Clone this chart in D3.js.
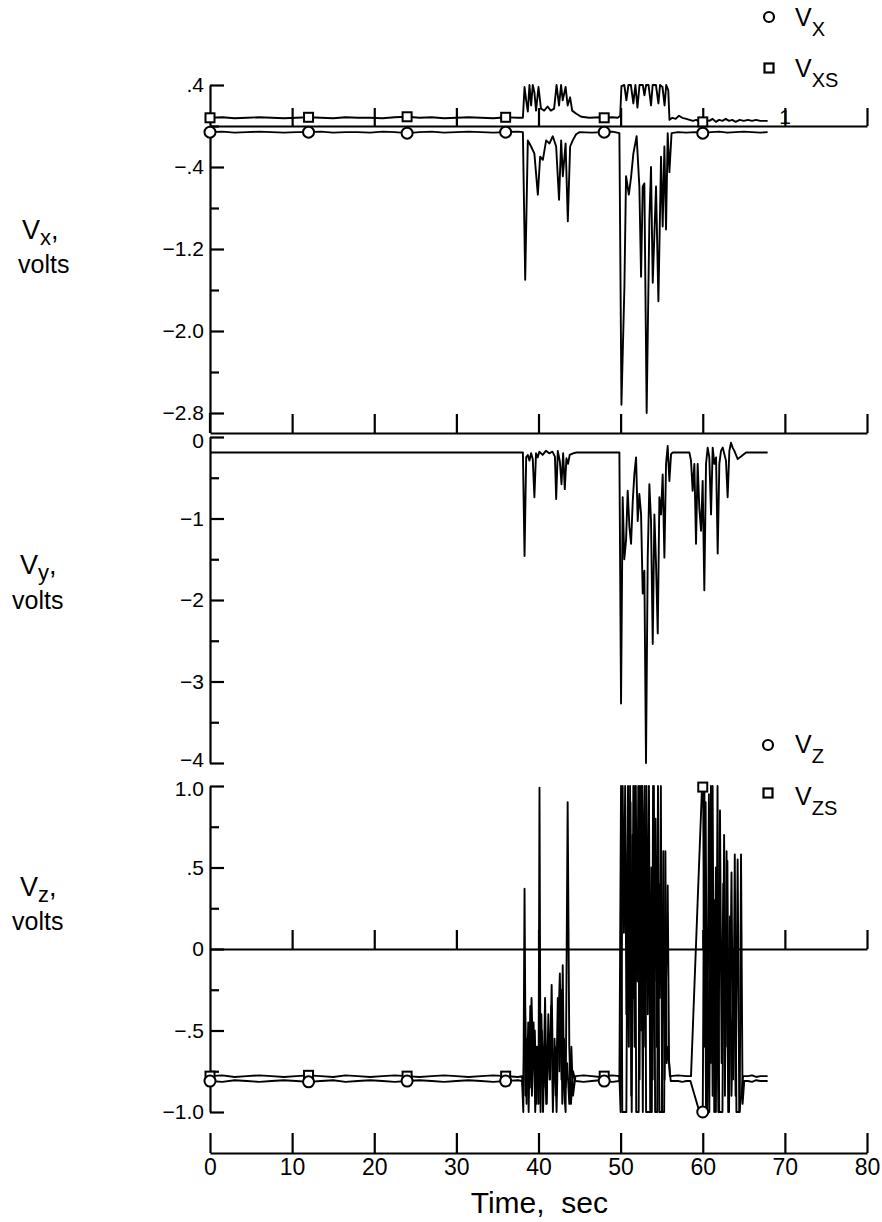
<!DOCTYPE html>
<html><head><meta charset="utf-8">
<script src="https://cdn.jsdelivr.net/npm/d3@7"></script>
<style>
body{margin:0;background:#fff}
svg{display:block}
text{font-family:"Liberation Sans",Arial,Helvetica,sans-serif;fill:#000}
</style>
</head><body>
<svg id="c" width="882" height="1222"></svg>
<script>
// ---------- data ----------
const timeTicks = [0,10,20,30,40,50,60,70,80];
const timeTickLabels = ["0","10","20","30","40","50","60","70","80"];
const markerTimes = [0,12,24,36,48,60];

const vxMajor = [0.4,-0.4,-1.2,-2.0,-2.8];
const vxMajorLabels = [".4","\u2212.4","\u22121.2","\u22122.0","\u22122.8"];
const vxMinor = [0,-0.8,-1.6,-2.4];

const vyMajor = [0,-1,-2,-3,-4];
const vyMajorLabels = ["0","\u22121","\u22122","\u22123","\u22124"];
const vyMinor = [-0.5,-1.5,-2.5,-3.5];

const vzMajor = [1,0.5,0,-0.5,-1];
const vzMajorLabels = ["1.0",".5","0","\u2212.5","\u22121.0"];
const vzMinor = [0.75,0.25,-0.25,-0.75];

// Vxs (squares), volts
const vxs = [[0,0.08],[1.5,0.085],[3,0.075],[4.5,0.08],[6,0.085],[7.5,0.08],[9,0.075],[10.5,0.08],[12,0.085],[13.5,0.08],[15,0.075],[16.5,0.085],[18,0.08],[19.5,0.08],[21,0.075],[22.5,0.085],[24,0.09],[25.5,0.08],[27,0.085],[28.5,0.075],[30,0.08],[31.5,0.085],[33,0.08],[34.5,0.075],[36,0.085],[37.5,0.08],
[38.1,0.08],[38.3,0.38],[38.5,0.25],[38.7,0.14],[38.9,0.4],[39.1,0.2],[39.3,0.4],[39.5,0.33],[39.7,0.15],[40.0,0.38],[40.3,0.17],[40.7,0.15],[41.1,0.19],[41.5,0.15],[41.9,0.17],[42.2,0.4],[42.5,0.2],[42.75,0.4],[42.95,0.25],[43.3,0.38],[43.55,0.2],[43.85,0.28],[44.1,0.15],[44.6,0.12],[45.2,0.09],[46.2,0.08],[47.4,0.085],[48,0.08],[49,0.085],[49.65,0.08],[49.95,0.1],
[50.1,0.39],[50.45,0.4],[50.7,0.25],[50.95,0.4],[51.25,0.4],[51.55,0.22],[51.8,0.4],[52.05,0.18],[52.3,0.4],[52.7,0.4],[52.9,0.3],[53.1,0.4],[53.4,0.4],[53.7,0.2],[53.9,0.4],[54.3,0.4],[54.6,0.22],[54.8,0.4],[55.1,0.38],[55.35,0.2],[55.55,0.4],[55.8,0.35],[55.95,0.06],
[56.3,0.08],[56.7,0.07],[57.1,0.1],[57.5,0.08],[58.0,0.07],[58.4,0.06],[58.8,0.05],[59.2,0.06],[59.6,0.04],[60,0.04],[60.4,0.06],[60.8,0.05],[61.2,0.07],[61.6,0.04],[62,0.06],[62.4,0.05],[62.8,0.07],[63.2,0.05],[63.6,0.06],[64,0.04],[64.5,0.06],[65,0.05],[65.5,0.06],[66,0.05],[66.5,0.06],[67,0.05],[67.9,0.05]];

// Vx (circles), volts
const vx = [[0,-0.06],[1.5,-0.055],[3,-0.065],[4.5,-0.06],[6,-0.055],[7.5,-0.06],[9,-0.065],[10.5,-0.06],[12,-0.06],[13.5,-0.055],[15,-0.065],[16.5,-0.06],[18,-0.06],[19.5,-0.065],[21,-0.055],[22.5,-0.06],[24,-0.07],[25.5,-0.06],[27,-0.055],[28.5,-0.065],[30,-0.06],[31.5,-0.055],[33,-0.06],[34.5,-0.065],[36,-0.06],[37.5,-0.055],
[38.1,-0.06],[38.38,-1.5],[38.7,-0.14],[39.1,-0.2],[39.5,-0.27],[39.92,-0.67],[40.2,-0.3],[40.53,-0.33],[40.93,-0.14],[41.34,-0.17],[41.74,-0.1],[42.15,-0.2],[42.5,-0.72],[42.76,-0.14],[42.96,-0.49],[43.3,-0.17],[43.57,-0.93],[43.85,-0.2],[44.17,-0.14],[44.58,-0.08],[45.0,-0.06],[46.5,-0.065],[48,-0.06],[49.0,-0.055],[49.85,-0.07],
[50.1,-2.72],[50.46,-1.57],[50.66,-0.49],[51.0,-0.67],[51.27,-0.5],[51.55,-0.27],[51.95,-0.1],[52.28,-0.59],[52.49,-1.47],[52.69,-0.59],[52.89,-0.56],[53.17,-2.8],[53.5,-0.92],[53.7,-0.4],[53.91,-1.53],[54.31,-0.59],[54.6,-1.71],[54.92,-0.3],[55.12,-0.98],[55.33,-0.2],[55.53,-1.01],[55.73,-0.07],[55.94,-0.45],[56.2,-0.07],
[57,-0.06],[58,-0.065],[59,-0.06],[60,-0.07],[61,-0.06],[62,-0.055],[63,-0.065],[64,-0.06],[65,-0.055],[66,-0.06],[67,-0.065],[67.9,-0.06]];

// Vy, volts
const vy = [[0,-0.19],[38.1,-0.19],[38.3,-1.46],[38.5,-0.25],[38.7,-0.22],[38.9,-0.29],[39.1,-0.2],[39.3,-0.27],[39.5,-0.74],[39.7,-0.2],[39.9,-0.25],[40.1,-0.18],[40.5,-0.22],[40.9,-0.17],[41.3,-0.2],[41.7,-0.18],[42.0,-0.24],[42.15,-0.76],[42.35,-0.17],[42.6,-0.3],[42.8,-0.58],[43.0,-0.2],[43.2,-0.64],[43.4,-0.26],[43.6,-0.33],[43.8,-0.22],[44.2,-0.2],[44.6,-0.19],[49.85,-0.19],
[50.05,-3.27],[50.25,-0.74],[50.45,-1.5],[50.66,-1.27],[50.86,-0.66],[51.07,-1.1],[51.27,-1.31],[51.47,-0.8],[51.67,-0.46],[51.88,-0.25],[52.08,-1.03],[52.28,-0.7],[52.49,-0.95],[52.69,-1.92],[52.89,-1.64],[53.09,-4.0],[53.3,-1.48],[53.5,-0.58],[53.7,-1.03],[53.91,-2.54],[54.11,-0.95],[54.31,-1.56],[54.52,-2.41],[54.72,-0.74],[54.92,-0.95],[55.12,-0.46],[55.33,-1.48],[55.53,-0.33],[55.73,-0.11],[55.94,-0.54],[56.14,-0.21],[56.34,-0.19],
[58.37,-0.19],[58.57,-0.29],[58.77,-0.66],[58.98,-0.33],[59.18,-1.31],[59.38,-0.33],[59.58,-0.87],[59.79,-1.15],[59.99,-0.54],[60.19,-1.88],[60.4,-0.33],[60.6,-0.13],[60.8,-0.25],[61.01,-0.95],[61.21,-0.13],[61.41,-0.33],[61.62,-0.25],[61.82,-1.43],[62.02,-0.33],[62.22,-0.17],[62.43,-0.13],[62.63,-0.21],[62.83,-0.29],[63.03,-0.74],[63.24,-0.17],[63.44,-0.07],[63.64,-0.13],[63.85,-0.17],[64.25,-0.27],[64.66,-0.24],[65.27,-0.19],[67.9,-0.19]];

// Vz (circles), volts
const vz = [[0,-0.81],[1.5,-0.815],[3,-0.805],[4.5,-0.81],[6,-0.815],[7.5,-0.81],[9,-0.805],[10.5,-0.81],[12,-0.815],[13.5,-0.81],[15,-0.805],[16.5,-0.815],[18,-0.81],[19.5,-0.805],[21,-0.81],[22.5,-0.815],[24,-0.81],[25.5,-0.805],[27,-0.81],[28.5,-0.815],[30,-0.81],[31.5,-0.805],[33,-0.81],[34.5,-0.815],[36,-0.81],[37.5,-0.805],[38.0,-0.81],
[38.15,-1.0],[38.3,0.37],[38.45,-0.9],[38.6,-0.55],[38.8,-1.0],[39.0,-0.35],[39.2,-0.9],[39.4,-0.45],[39.6,-1.0],[39.8,-0.6],[40.0,-0.95],[40.12,0.99],[40.25,-1.0],[40.4,-0.5],[40.6,-0.85],[40.8,-0.3],[41.0,-0.95],[41.2,-0.4],[41.4,-0.8],[41.6,-0.22],[41.8,-0.9],[42.0,-0.6],[42.2,-1.0],[42.4,-0.5],[42.6,-0.15],[42.8,-0.8],[42.95,-0.1],[43.1,-0.85],[43.3,-1.0],[43.55,0.9],[43.75,-0.6],[43.95,-0.95],[44.2,-0.75],[44.5,-0.81],
[45.5,-0.815],[46.5,-0.81],[47.5,-0.805],[48,-0.81],[49,-0.815],[49.85,-0.81],
[50.05,1.0],[50.2,-1.0],[50.7,-1.0],[50.85,0.6],[51.0,-0.6],[51.15,1.0],[51.3,-0.9],[51.45,0.7],[51.6,-0.3],[51.75,1.0],[51.9,-1.0],[52.2,-1.0],[52.35,1.0],[52.5,-0.5],[52.65,1.0],[52.8,0.2],[52.95,1.0],[53.1,-1.0],[53.8,-1.0],[53.95,1.0],[54.1,-0.2],[54.25,0.8],[54.4,-0.6],[54.55,1.0],[54.7,-1.0],[55.0,-1.0],[55.2,0.6],[55.35,-0.8],[55.5,-0.3],[55.73,0.39],[55.9,-0.7],[56.1,-0.81],
[57,-0.81],[57.5,-0.815],[58,-0.81],[58.5,-0.81],
[59.6,-1.0],[60.0,-1.0],[60.2,1.0],[60.4,-1.0],[60.6,-0.2],[60.8,-1.0],[61.0,1.0],[61.2,-0.9],[61.4,0.3],[61.6,-1.0],[61.8,1.0],[62.0,-1.0],[62.4,-1.0],[62.6,0.7],[62.8,-0.6],[63.0,0.54],[63.2,-1.0],[63.5,0.47],[63.7,-0.8],[63.9,0.58],[64.1,-1.0],[64.5,-1.0],[64.66,0.58],[64.85,-0.95],[65.05,-0.81],
[65.5,-0.81],[66,-0.815],[66.5,-0.805],[67,-0.81],[67.9,-0.81]];

// Vzs (squares), volts
const vzs = [[0,-0.78],[1.5,-0.775],[3,-0.785],[4.5,-0.78],[6,-0.775],[7.5,-0.78],[9,-0.785],[10.5,-0.78],[12,-0.775],[13.5,-0.78],[15,-0.785],[16.5,-0.775],[18,-0.78],[19.5,-0.785],[21,-0.78],[22.5,-0.775],[24,-0.78],[25.5,-0.785],[27,-0.78],[28.5,-0.775],[30,-0.78],[31.5,-0.785],[33,-0.78],[34.5,-0.775],[36,-0.78],[37.5,-0.785],[38.0,-0.78],
[38.15,-0.9],[38.35,-0.3],[38.55,-0.95],[38.75,-0.45],[38.95,-0.85],[39.15,-0.3],[39.35,-0.7],[39.55,-0.5],[39.75,-0.95],[39.95,-0.6],[40.2,-0.85],[40.35,-0.4],[40.55,-1.0],[40.75,-0.6],[40.95,-0.95],[41.15,-0.55],[41.35,-0.8],[41.55,-0.35],[41.75,-1.0],[41.95,-0.55],[42.15,-0.9],[42.35,-0.3],[42.55,-0.75],[42.75,-0.25],[42.9,-0.95],[43.1,-0.55],[43.3,-0.85],[43.5,-0.7],[43.75,-0.95],[44.0,-0.6],[44.2,-0.9],[44.5,-0.78],
[45.5,-0.775],[46.5,-0.78],[47.5,-0.785],[48,-0.78],[49,-0.775],[49.85,-0.78],
[50.0,-1.0],[50.25,1.0],[50.4,0.1],[50.55,1.0],[50.7,-0.4],[50.9,1.0],[51.05,-0.2],[51.2,0.9],[51.35,-1.0],[51.55,1.0],[51.7,-0.6],[51.85,1.0],[52.0,-0.2],[52.15,1.0],[52.3,-0.8],[52.5,1.0],[52.7,-1.0],[52.85,0.6],[53.0,-0.6],[53.15,1.0],[53.3,-0.4],[53.45,1.0],[53.6,-1.0],[53.75,0.5],[53.9,-0.8],[54.05,1.0],[54.2,-1.0],[54.45,-1.0],[54.6,0.4],[54.75,-0.3],[54.9,1.0],[55.05,-1.0],[55.3,-1.0],[55.45,0.6],[55.6,-0.7],[55.8,-0.6],[56.0,-0.78],
[57,-0.775],[58,-0.78],[58.57,-0.78],
[59.9,0.98],[60.05,1.0],[60.2,-0.6],[60.35,0.9],[60.55,-1.0],[60.75,0.95],[61.0,-0.7],[61.2,1.0],[61.4,-1.0],[61.6,0.5],[61.9,-1.0],[62.1,0.85],[62.3,-0.7],[62.5,0.4],[62.7,-0.9],[62.9,0.6],[63.1,-1.0],[63.3,0.2],[63.5,-0.9],[63.8,0.0],[64.0,-0.9],[64.25,0.55],[64.45,-1.0],[64.7,-0.9],[64.9,-0.78],
[65.5,-0.78],[66,-0.775],[66.5,-0.785],[67,-0.78],[67.9,-0.78]];

// ---------- drawing ----------
const svg = d3.select("#c");
const x = d3.scaleLinear().domain([0,80]).range([210,867]);
const yX = d3.scaleLinear().domain([-2.8,0.4]).range([413,85]);
const yY = d3.scaleLinear().domain([-4,0]).range([763,437]);
const yZ = d3.scaleLinear().domain([-1,1]).range([1112,786]);
const FONT = "Liberation Sans, Arial, sans-serif";

function valueAt(data,t){
  const i = d3.bisector(d=>d[0]).left(data,t);
  if(i<=0) return data[0][1];
  if(i>=data.length) return data[data.length-1][1];
  const a=data[i-1], b=data[i];
  if(b[0]===t) return b[1];
  return a[1]+(b[1]-a[1])*(t-a[0])/(b[0]-a[0]);
}

function yAxis(scale, major, labels, minor, nudge){
  const g = svg.append("g").attr("transform",`translate(${x(0)},0)`);
  g.call(d3.axisLeft(scale).tickValues(major).tickFormat((d,i)=>labels[i]).tickSize(-14).tickSizeOuter(0).tickPadding(6))
   .call(s=>s.selectAll("text").attr("font-size",21).attr("font-family",FONT).attr("y",(d)=> (nudge && nudge.has(d)) ? nudge.get(d) : 0))
   .call(s=>s.selectAll("line,path").attr("stroke","#000").attr("stroke-width",2.2));
  g.append("g").call(d3.axisLeft(scale).tickValues(minor).tickFormat("").tickSize(-9).tickSizeOuter(0))
   .call(s=>s.select("path").remove())
   .call(s=>s.selectAll("line").attr("stroke","#000").attr("stroke-width",2.2));
}
function timeLine(yPos, values, len){
  const g = svg.append("g").attr("transform",`translate(0,${yPos})`);
  g.call(d3.axisTop(x).tickValues(values).tickFormat("").tickSize(len).tickSizeOuter(0))
   .call(s=>s.selectAll("line,path").attr("stroke","#000").attr("stroke-width",2.2));
}

// top panel
yAxis(yX, vxMajor, vxMajorLabels, vxMinor);
svg.append("line").attr("x1",x(0)).attr("x2",x(0)).attr("y1",yX(-2.8)).attr("y2",433).attr("stroke","#000").attr("stroke-width",2.2);
timeLine(yX(0), timeTicks.slice(1), 18);
timeLine(433, timeTicks, 19);
// middle
yAxis(yY, vyMajor, vyMajorLabels, vyMinor, new Map([[0,4],[-4,-3]]));
// bottom
yAxis(yZ, vzMajor, vzMajorLabels, vzMinor, new Map([[1,3]]));
timeLine(yZ(0), timeTicks.slice(1), 19);
// bottom time axis
const gx = svg.append("g").attr("transform","translate(0,1153)");
gx.call(d3.axisBottom(x).tickValues(timeTicks).tickFormat((d,i)=>timeTickLabels[i]).tickSize(-20).tickSizeOuter(0).tickPadding(6))
  .call(s=>s.selectAll("text").attr("font-size",23).attr("font-family",FONT))
  .call(s=>s.selectAll("line,path").attr("stroke","#000").attr("stroke-width",2.2));
svg.append("text").attr("x",x(40.1)).attr("y",1213).attr("text-anchor","middle").attr("font-size",30)
  .attr("xml:space","preserve").style("white-space","pre").text("Time,  sec");

// series lines
const lineFor = ys => d3.line().x(d=>x(d[0])).y(d=>ys(d[1]));
const series = [[vxs,yX],[vx,yX],[vy,yY],[vz,yZ],[vzs,yZ]];
series.forEach(([data,ys])=>{
  svg.append("path").datum(data).attr("d",lineFor(ys)).attr("fill","none").attr("stroke","#000").attr("stroke-width",1.9).attr("stroke-linejoin","round");
});

// markers
function circles(data, ys){
  svg.append("g").selectAll("circle").data(markerTimes).join("circle")
    .attr("cx",t=>x(t)).attr("cy",t=>ys(valueAt(data,t))).attr("r",5.5)
    .attr("fill","#fff").attr("stroke","#000").attr("stroke-width",2);
}
function squares(data, ys){
  svg.append("g").selectAll("rect").data(markerTimes).join("rect")
    .attr("x",t=>x(t)-4.5).attr("y",t=>ys(valueAt(data,t))-4.5).attr("width",9).attr("height",9)
    .attr("fill","#fff").attr("stroke","#000").attr("stroke-width",2);
}
squares(vxs,yX); circles(vx,yX);
squares(vzs,yZ); circles(vz,yZ);

// legends
function sub(g, xPos, yPos, main, subtxt, size, subsize, dy, trail){
  const t = g.append("text").attr("x",xPos).attr("y",yPos).attr("font-size",size);
  t.append("tspan").text(main);
  t.append("tspan").attr("font-size",subsize).attr("dy",dy).text(subtxt);
  if(trail) t.append("tspan").attr("dy",-dy).text(trail);
  return t;
}
const leg = svg.append("g");
leg.append("circle").attr("cx",769).attr("cy",17).attr("r",5).attr("fill","#fff").attr("stroke","#000").attr("stroke-width",2.2);
sub(leg,795,26,"V","X",25,20,10);
leg.append("rect").attr("x",764.5).attr("y",63.5).attr("width",9).attr("height",9).attr("fill","#fff").attr("stroke","#000").attr("stroke-width",2.2);
sub(leg,795,77,"V","XS",25,20,10);
leg.append("circle").attr("cx",768).attr("cy",745).attr("r",5).attr("fill","#fff").attr("stroke","#000").attr("stroke-width",2.2);
sub(leg,795,753,"V","Z",25,20,10);
leg.append("rect").attr("x",763.5).attr("y",788.5).attr("width",9).attr("height",9).attr("fill","#fff").attr("stroke","#000").attr("stroke-width",2.2);
sub(leg,795,805,"V","ZS",25,20,10);
svg.append("text").attr("x",785).attr("y",124).attr("text-anchor","middle").attr("font-size",21).text("1");

// y titles
const ttl = svg.append("g");
sub(ttl,22,239,"V","x",27,22,6,",");
ttl.append("text").attr("x",18).attr("y",273).attr("font-size",25).text("volts");
sub(ttl,20,574,"V","y",27,22,6,",");
ttl.append("text").attr("x",12).attr("y",609).attr("font-size",25).text("volts");
sub(ttl,20,896,"V","z",27,22,6,",");
ttl.append("text").attr("x",12).attr("y",930).attr("font-size",25).text("volts");
</script>
</body></html>
